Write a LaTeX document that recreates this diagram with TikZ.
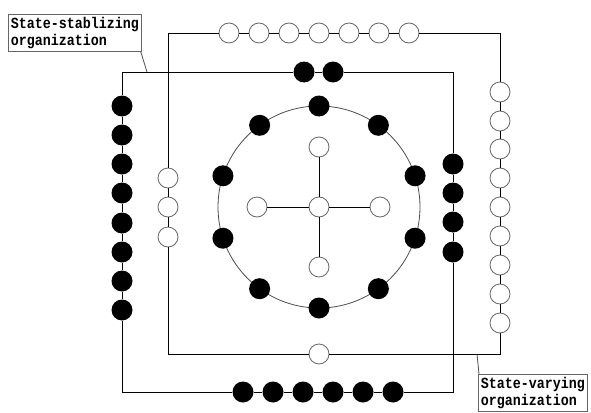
\documentclass[tikz,border=0pt]{standalone}
\usepackage{fontspec}
\setmonofont[FakeStretch=0.86]{Liberation Mono}
\usetikzlibrary{positioning}

\tikzset{
  wdot/.style={circle,draw=black!60,fill=white,inner sep=0pt,minimum size=20pt,line width=0.8pt},
  bdot/.style={circle,fill=black,inner sep=0pt,minimum size=21pt},
  tag/.style={draw=black!60,fill=white,inner sep=2.5pt,align=left,
    font=\ttfamily\bfseries\fontsize{15.5}{17.5}\selectfont},
}

\begin{document}
\begin{tikzpicture}[x=1pt,y=-1pt,line width=0.8pt]
  \useasboundingbox (0,0) rectangle (591,412);

  % corners of the two frames
  \coordinate (a1) at (168,33);  \coordinate (a2) at (500,33);
  \coordinate (a3) at (500,354); \coordinate (a4) at (168,354);
  \coordinate (b1) at (122,72);  \coordinate (b2) at (453,72);
  \coordinate (b3) at (453,392); \coordinate (b4) at (122,392);

  % white frame
  \foreach \x [count=\i] in {229,259,289,319,349,379,409}
    \node[wdot] (wt\i) at (\x,33) {};
  \foreach \y [count=\i] in {92,121,149,178,207,236,265,294,323}
    \node[wdot] (wr\i) at (500,\y) {};
  \foreach \y [count=\i] in {178,207,237}
    \node[wdot] (wl\i) at (168,\y) {};
  \node[wdot] (wb) at (319,354) {};

  \draw (a4) -- (wl3) -- (wl2) -- (wl1) -- (a1) -- (wt1) -- (wt2) -- (wt3)
    -- (wt4) -- (wt5) -- (wt6) -- (wt7) -- (a2) -- (wr1) -- (wr2) -- (wr3)
    -- (wr4) -- (wr5) -- (wr6) -- (wr7) -- (wr8) -- (wr9) -- (a3) -- (wb) -- (a4);

  % black frame
  \node[bdot] (bt1) at (304,72) {};
  \node[bdot] (bt2) at (333,72) {};
  \foreach \y [count=\i] in {164,193,222,252}
    \node[bdot] (br\i) at (453,\y) {};
  \foreach \x [count=\i] in {243,273,303,333,363,393}
    \node[bdot] (bb\i) at (\x,392) {};
  \foreach \y [count=\i] in {106,135,164,193,223,252,281,310}
    \node[bdot] (bl\i) at (122,\y) {};

  \draw (b1) -- (bt1) -- (bt2) -- (b2) -- (br1) -- (br2) -- (br3) -- (br4)
    -- (b3) -- (bb6) -- (bb5) -- (bb4) -- (bb3) -- (bb2) -- (bb1) -- (b4)
    -- (bl8) -- (bl7) -- (bl6) -- (bl5) -- (bl4) -- (bl3) -- (bl2) -- (bl1) -- (b1);

  % ring and cross
  \node[wdot] (c0) at (319,207) {};
  \draw[black!70] (c0.center) circle[radius=101];
  \foreach \a [count=\i] in {90,126,...,414}
    \path (c0.center) ++(\a:101) node[bdot] (r\i) {};
  \node[wdot] (cn) at (319,147) {};
  \node[wdot] (cs) at (319,267) {};
  \node[wdot] (cw) at (257,207) {};
  \node[wdot] (ce) at (380,207) {};
  \draw (c0) -- (cn);
  \draw (c0) -- (cs);
  \draw (c0) -- (cw);
  \draw (c0) -- (ce);

  % labels
  \node[tag,anchor=north west] (stab) at (8,14) {State-stablizing\\organization};
  \coordinate (p1) at (147,72);
  \draw[black!70] ([xshift=-1pt]stab.south east) -- (p1);

  \node[tag,anchor=north west] (vary) at (478,374) {State-varying\\organization};
  \coordinate (q1) at (477,354);
  \draw[black!70] (q1) -- ([xshift=1pt]vary.north west);
\end{tikzpicture}
\end{document}
